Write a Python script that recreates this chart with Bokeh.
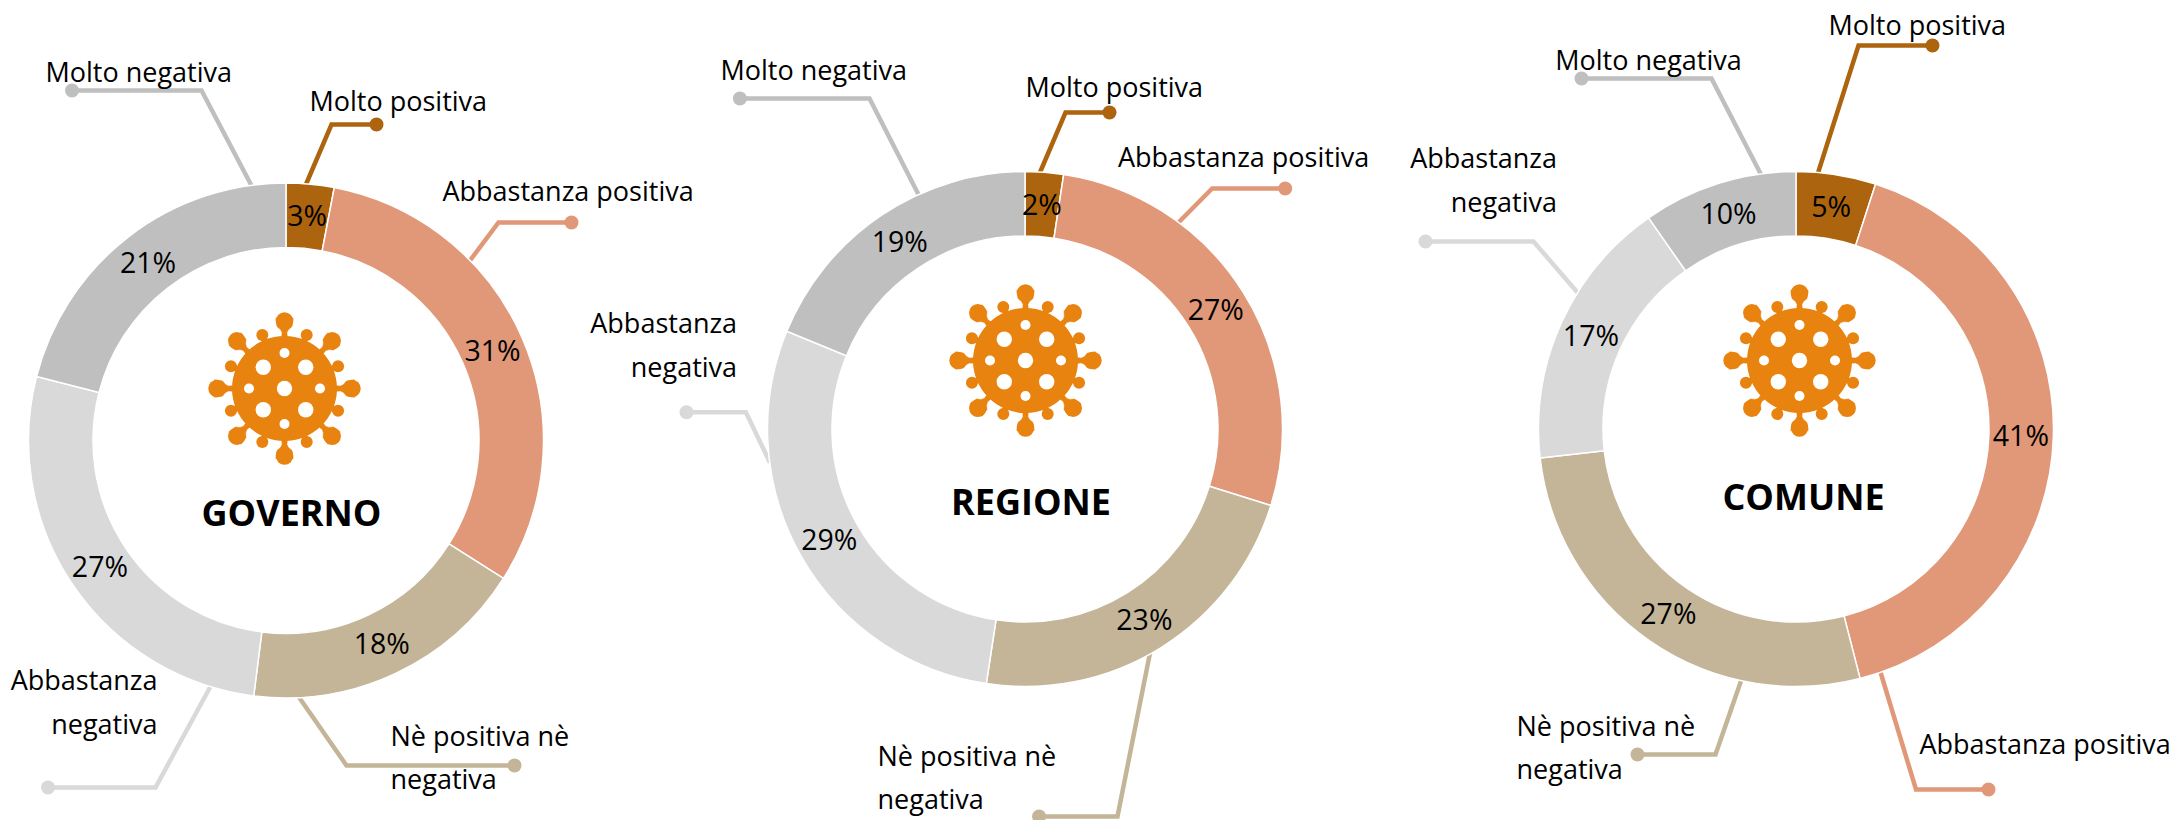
import math
from bokeh.plotting import figure
from bokeh.embed import file_html
from bokeh.resources import INLINE
from bokeh.core.properties import value
from bokeh.models import ColumnDataSource, Range1d

# ---------- data ----------
CATEGORIES = ["Molto positiva", "Abbastanza positiva", "Nè positiva nè negativa",
              "Abbastanza negativa", "Molto negativa"]
GOVERNO = [3, 31, 18, 27, 21]
REGIONE = [2.4, 27.4, 22.6, 28.8, 18.8]
COMUNE = [5, 41, 27.2, 17.1, 9.7]
TITLES = ["GOVERNO", "REGIONE", "COMUNE"]
COLORS = ["#AD640F", "#E09878", "#C4B598", "#D9D9D9", "#BFBFBF"]
FONT = "Open Sans"
W, H = 2172, 820
OX, OY = 0, 820   # page pixel of the data origin


def Y(py):
    return OY - py


p = figure(width=W, height=H, output_backend="svg", toolbar_location=None,
           x_range=Range1d(OX, OX + W), y_range=Range1d(0, H),
           min_border=0, outline_line_color=None)
p.axis.visible = False
p.grid.visible = False
p.background_fill_color = "white"
p.border_fill_color = "white"

# ---------- layout, in page pixels ----------
R_OUT, R_IN, R_LAB = 257.5, 193, 225
ICON = "#E8830F"
LABEL_DY = -2
PANELS = [
    dict(values=GOVERNO, title=TITLES[0], c=(285.5, 440), icon=(284, 388), t=(291, 512),
         leaders=[[(376, 124), (331, 124), (305, 185)],
                  [(571, 222), (498, 222), (469.5, 260)],
                  [(514, 765), (346, 765), (298, 696)],
                  [(47.5, 787), (155, 787), (210, 686)],
                  [(71.5, 90), (201, 90), (252, 187)]],
         labels=[(["Molto positiva"], 309, [102], "left"),
                 (["Abbastanza positiva"], 442, [192], "left"),
                 (["Nè positiva nè", "negativa"], 390, [737, 780], "left"),
                 (["Abbastanza", "negativa"], 157, [681, 725], "right"),
                 (["Molto negativa"], 45, [73], "left")]),
    dict(values=REGIONE, title=TITLES[1], c=(1024.5, 428.5), icon=(1025, 360), t=(1030.5, 501),
         leaders=[[(1109, 112), (1065, 112), (1038.6, 174)],
                  [(1284.7, 188), (1211.7, 188), (1177, 223)],
                  [(1038.6, 816), (1117, 816), (1149.4, 653)],
                  [(686, 411.7), (745.4, 411.7), (769.4, 462)],
                  [(739.4, 98), (869, 98), (918.5, 195)]],
         labels=[(["Molto positiva"], 1025, [88], "left"),
                 (["Abbastanza positiva"], 1117.5, [158], "left"),
                 (["Nè positiva nè", "negativa"], 877, [757, 800], "left"),
                 (["Abbastanza", "negativa"], 736.6, [324, 368], "right"),
                 (["Molto negativa"], 720, [71], "left")]),
    dict(values=COMUNE, title=TITLES[2], c=(1795.5, 428.5), icon=(1799, 360), t=(1803, 496),
         leaders=[[(1932, 45), (1858, 45), (1817, 174)],
                  [(1988, 789), (1915.5, 789), (1879.5, 670)],
                  [(1637, 754), (1715, 754), (1741, 679)],
                  [(1425, 241), (1533, 241), (1577, 292)],
                  [(1581, 78), (1711, 78), (1761, 175)]],
         labels=[(["Molto positiva"], 1828, [26], "left"),
                 (["Abbastanza positiva"], 1919, [745], "left"),
                 (["Nè positiva nè", "negativa"], 1516, [727, 770], "left"),
                 (["Abbastanza", "negativa"], 1556.5, [159, 203], "right"),
                 (["Molto negativa"], 1554.7, [61], "left")]),
]


def spike_polygon(cx, cy, ang, profile):
    ux, uy = math.cos(ang), math.sin(ang)
    vx, vy = -uy, ux
    pts = [(r, w) for r, w in profile] + [(r, -w) for r, w in reversed(profile)]
    return ([cx + r * ux + w * vx for r, w in pts],
            [Y(cy - (r * uy + w * vy)) for r, w in pts])


def draw_icon(cx, cy):
    xs, ys, bx, by, br = [], [], [], [], []
    for k in range(16):
        ang = k * math.pi / 8
        if k % 2 == 0:
            prof = [(46, 5), (52, 2.8), (56, 2.4), (59, 4), (62, 7.5), (70, 8.7)]
            rb, rad = 67.5, 8.7
        else:
            prof = [(46, 4), (52, 2.6), (56, 3.5)]
            rb, rad = 58, 6
        a, b = spike_polygon(cx, cy, ang, prof)
        xs.append(a); ys.append(b)
        bx.append(cx + rb * math.cos(ang)); by.append(Y(cy - rb * math.sin(ang))); br.append(rad)
    p.patches(xs, ys, fill_color=ICON, line_color=ICON, line_width=0.5)
    p.circle(bx, by, radius=br, fill_color=ICON, line_color=None)
    p.circle([cx], [Y(cy)], radius=52.5, fill_color=ICON, line_color=None)
    hx, hy, hr = [cx], [Y(cy)], [7.7]
    for k in range(4):
        a = math.pi / 4 + k * math.pi / 2
        hx.append(cx + 30 * math.cos(a)); hy.append(Y(cy) + 30 * math.sin(a)); hr.append(7.7)
        a = k * math.pi / 2
        hx.append(cx + 35.5 * math.cos(a)); hy.append(Y(cy) + 35.5 * math.sin(a)); hr.append(5)
    p.circle(hx, hy, radius=hr, fill_color="white", line_color=None)


for panel in PANELS:
    cx, cy = panel["c"]
    vals = panel["values"]
    # leaders under the ring
    for path, col in zip(panel["leaders"], COLORS):
        p.line([q[0] for q in path], [Y(q[1]) for q in path], line_color=col,
               line_width=4.5, line_join="miter")
        p.circle([path[0][0]], [Y(path[0][1])], radius=7, fill_color=col, line_color=None)
    # ring
    total = sum(vals)
    cum, st, en, lx, ly, txt = 0, [], [], [], [], []
    for v in vals:
        a0 = math.pi / 2 - 2 * math.pi * cum / total
        a1 = math.pi / 2 - 2 * math.pi * (cum + v) / total
        mid = (a0 + a1) / 2
        st.append(a0); en.append(a1)
        lx.append(cx + R_LAB * math.cos(mid)); ly.append(Y(cy) + R_LAB * math.sin(mid) + 1)
        txt.append(f"{round(v)}%")
        cum += v
    src = ColumnDataSource(dict(x=[cx] * len(vals), y=[Y(cy)] * len(vals), st=st, en=en, c=COLORS))
    p.annular_wedge(x="x", y="y", inner_radius=R_IN, outer_radius=R_OUT, start_angle="st",
                    end_angle="en", direction="clock", fill_color="c", line_color="white",
                    line_width=1.5, source=src)
    p.text(lx, ly, text=txt, text_font=value(FONT), text_font_size="28.5px", text_color="black",
           text_align="center", text_baseline="middle")
    # callout labels
    for lines, x, yy, align in panel["labels"]:
        p.text([x] * len(lines), [Y(v + LABEL_DY) for v in yy], text=lines, text_font=value(FONT),
               text_font_size="27px", text_color="black", text_align=align,
               text_baseline="middle")
    draw_icon(*panel["icon"])
    p.text([panel["t"][0]], [Y(panel["t"][1])], text=[panel["title"]], text_font=value(FONT),
           text_font_size="36px", text_font_style="bold", text_color="black",
           text_align="center", text_baseline="middle")

open("out.html", "w").write(file_html(p, INLINE))
